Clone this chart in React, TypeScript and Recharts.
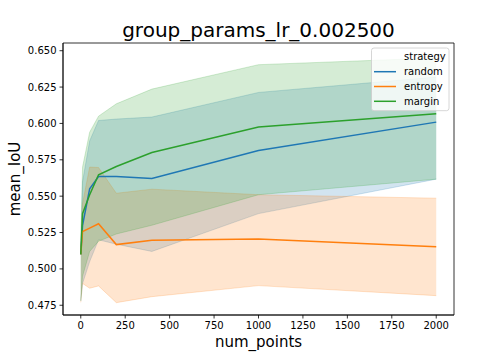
import React from 'react';
import { ComposedChart, Area, Line, XAxis, YAxis, ReferenceArea } from 'recharts';

const numPoints = [0, 10, 50, 100, 200, 400, 1000, 2000];

const randomMean = [0.510, 0.530, 0.555, 0.5635, 0.5635, 0.5621, 0.5814, 0.6009];
const randomLow = [0.478, 0.490, 0.505, 0.520, 0.517, 0.512, 0.538, 0.5617];
const randomHigh = [0.515, 0.560, 0.588, 0.602, 0.603, 0.6044, 0.6213, 0.6319];

const entropyMean = [0.510, 0.5257, 0.528, 0.531, 0.5167, 0.5197, 0.5206, 0.5153];
const entropyLow = [0.477, 0.490, 0.4867, 0.4883, 0.4768, 0.4809, 0.4885, 0.4816];
const entropyHigh = [0.515, 0.545, 0.570, 0.5697, 0.552, 0.5548, 0.551, 0.5486];

const marginMean = [0.510, 0.538, 0.551, 0.5647, 0.5704, 0.580, 0.5975, 0.6066];
const marginLow = [0.478, 0.495, 0.512, 0.519, 0.524, 0.530, 0.551, 0.5617];
const marginHigh = [0.520, 0.570, 0.594, 0.605, 0.6135, 0.6236, 0.6404, 0.645];

const xTicks = [0, 250, 500, 750, 1000, 1250, 1500, 1750, 2000];
const yTicks = [0.475, 0.5, 0.525, 0.55, 0.575, 0.6, 0.625, 0.65];
const xDomain = [-100, 2100];
const yDomain = [0.4683, 0.6553];

const strategies = ['random', 'entropy', 'margin'];
const colors = ['#1f77b4', '#ff7f0e', '#2ca02c'];

const data = numPoints.map((x, i) => ({
  x,
  randomBand: [randomLow[i], randomHigh[i]],
  entropyBand: [entropyLow[i], entropyHigh[i]],
  marginBand: [marginLow[i], marginHigh[i]],
  random: randomMean[i],
  entropy: entropyMean[i],
  margin: marginMean[i],
}));

const FONT = '"DejaVu Sans", sans-serif';
const axisStyle = { stroke: '#000', strokeWidth: 0.8 };

export default function App() {
  return (
    <div style={{ position: 'absolute', left: 0, top: 0, width: 504, height: 360, background: '#fff', fontFamily: FONT }}>
      <ComposedChart width={504} height={360} data={data} margin={{ top: 43, right: 50, bottom: 0, left: 0 }}>
        <XAxis
          type="number"
          dataKey="x"
          domain={xDomain}
          ticks={xTicks}
          allowDataOverflow
          height={45}
          tickSize={3.5}
          tickMargin={3}
          axisLine={axisStyle}
          tickLine={axisStyle}
          tick={{ fill: '#000', fontSize: 10, fontFamily: FONT }}
        />
        <YAxis
          type="number"
          domain={yDomain}
          ticks={yTicks}
          allowDataOverflow
          width={63}
          tickSize={3.5}
          tickMargin={3}
          axisLine={axisStyle}
          tickLine={axisStyle}
          tickFormatter={(v: number) => v.toFixed(3)}
          tick={{ fill: '#000', fontSize: 10, fontFamily: FONT }}
        />
        {strategies.map((s, i) => (
          <Area
            key={s + 'Band'}
            type="linear"
            dataKey={s + 'Band'}
            fill={colors[i]}
            fillOpacity={0.2}
            stroke={colors[i]}
            strokeOpacity={0.2}
            strokeWidth={1}
            isAnimationActive={false}
            activeDot={false}
            dot={false}
          />
        ))}
        {strategies.map((s, i) => (
          <Line
            key={s}
            type="linear"
            dataKey={s}
            stroke={colors[i]}
            strokeWidth={1.5}
            dot={false}
            activeDot={false}
            isAnimationActive={false}
          />
        ))}
        <ReferenceArea
          x1={xDomain[0]}
          x2={xDomain[1]}
          y1={yDomain[0]}
          y2={yDomain[1]}
          fill="none"
          fillOpacity={0}
          stroke="#000"
          strokeWidth={0.8}
          ifOverflow="visible"
        />
      </ComposedChart>
      <svg width={504} height={360} style={{ position: 'absolute', left: 0, top: 0, pointerEvents: 'none' }}>
        <text x={258.5} y={37} textAnchor="middle" fontSize={20} fontFamily={FONT} fill="#000">
          group_params_lr_0.002500
        </text>
        <text x={258.5} y={347} textAnchor="middle" fontSize={15} fontFamily={FONT} fill="#000">
          num_points
        </text>
        <text
          x={0}
          y={0}
          transform="translate(20,179) rotate(-90)"
          textAnchor="middle"
          fontSize={15}
          fontFamily={FONT}
          fill="#000"
        >
          mean_IoU
        </text>
        <rect x={371.5} y={48} width={77.5} height={62.7} rx={2.5} fill="#fff" fillOpacity={0.8} stroke="#cccccc" strokeWidth={0.8} />
        <text x={404} y={59.5} fontSize={10} fontFamily={FONT} fill="#000">strategy</text>
        {strategies.map((s, i) => (
          <g key={s}>
            <line x1={374} x2={396} y1={71.7 + i * 14.8} y2={71.7 + i * 14.8} stroke={colors[i]} strokeWidth={1.5} />
            <text x={404} y={75.2 + i * 14.8} fontSize={10} fontFamily={FONT} fill="#000">{s}</text>
          </g>
        ))}
      </svg>
    </div>
  );
}
